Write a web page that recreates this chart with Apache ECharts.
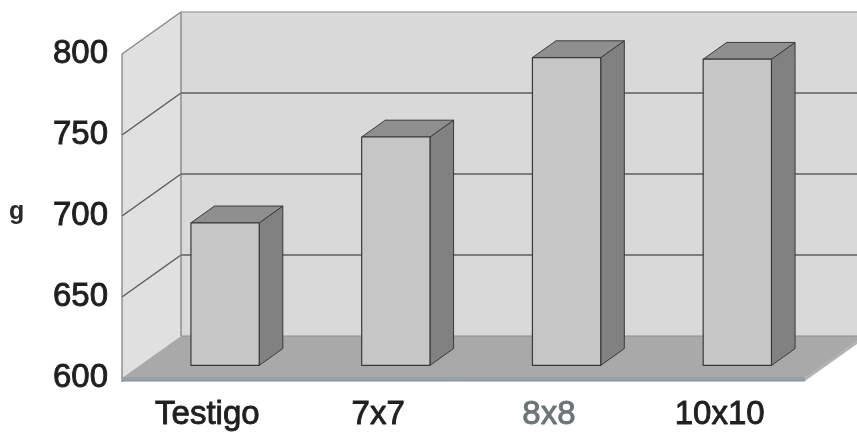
<!DOCTYPE html>
<html>
<head>
<meta charset="utf-8">
<script src="https://cdn.jsdelivr.net/npm/echarts@6/dist/echarts.min.js"></script>
<style>
  html, body { margin: 0; padding: 0; background: #ffffff; }
  #chart { width: 857px; height: 435px; }
</style>
</head>
<body>
<div id="chart"></div>
<script>
// Weight per planting density
const categories = ['Testigo', '7x7', '8x8', '10x10'];
const weights = [688, 741, 790, 789];
const yTicks = [600, 650, 700, 750, 800];
const labelColors = ['#1f1f1f', '#1f1f1f', '#6b7474', '#1f1f1f'];

// Oblique projection: pixel offset from the front plane to the back wall
const DEPTH = [59, -42];
const BAR_FRONT = 0.3;   // bar front face, as a fraction of the depth
const BAR_BACK = 0.7;    // bar back face
const BAR_WIDTH = 0.4;   // bar width relative to the category band
const FONT = 'Liberation Sans, Arial, sans-serif';

function shift(p, f) {
  return [p[0] + DEPTH[0] * f, p[1] + DEPTH[1] * f];
}
function poly(points, fill, stroke, lw) {
  return {
    type: 'polygon',
    shape: { points: points },
    style: { fill: fill, stroke: stroke || null, lineWidth: lw || 0, lineJoin: 'round' }
  };
}
function seg(p1, p2, stroke, lw) {
  return {
    type: 'line',
    shape: { x1: p1[0], y1: p1[1], x2: p2[0], y2: p2[1] },
    style: { stroke: stroke, lineWidth: lw }
  };
}

// Walls, floor and the gridlines painted on them
function renderWalls(params, api) {
  const cs = params.coordSys;
  const x0 = cs.x, x1 = cs.x + cs.width;
  const yBase = api.coord([0, yTicks[0]])[1];
  const yTop = api.coord([0, yTicks[yTicks.length - 1]])[1];
  const kids = [];

  // left side wall
  kids.push(poly([[x0, yBase], [x0, yTop], shift([x0, yTop], 1), shift([x0, yBase], 1)], '#e0e0e0'));
  // back wall
  kids.push(poly([shift([x0, yBase], 1), shift([x0, yTop], 1), shift([x1, yTop], 1), shift([x1, yBase], 1)], '#d9d9d9'));

  // gridlines on both walls
  yTicks.slice(1).forEach(function (v, idx) {
    const y = api.coord([0, v])[1];
    const last = idx === yTicks.length - 2;
    const col = last ? '#8a8a8a' : '#5c5c5c';
    kids.push(seg([x0, y], shift([x0, y], 1), col, 1.5));
    kids.push(seg(shift([x0, y], 1), shift([x1, y], 1), last ? '#a8a8a8' : col, 1.5));
  });

  // wall edges
  kids.push(seg([x0, yTop], [x0, yBase + 4], '#7a7a7a', 1.2));
  kids.push(seg(shift([x0, yTop], 1), shift([x0, yBase], 1), '#7a7a7a', 1.2));

  // floor top surface and its front slab
  kids.push(poly([[x0, yBase], [x1, yBase], shift([x1, yBase], 1), shift([x0, yBase], 1)], '#a9a9a9'));
  kids.push(poly([[x0, yBase - 1], [x1, yBase - 1], [x1, yBase + 3], [x0, yBase + 3]], '#97a1a6'));
  kids.push(poly([[x1, yBase - 1], shift([x1, yBase], 1), shift([x1, yBase + 3], 1), [x1, yBase + 3]], '#b2b2b2'));
  kids.push(seg([x0, yBase + 3], [x1, yBase + 3], '#8490a0', 1));
  kids.push(seg(shift([x0, yBase], 1), shift([x1, yBase], 1), '#8e8e8e', 1));

  return { type: 'group', children: kids };
}

// One box per category
function renderBar(params, api) {
  const i = api.value(0);
  const v = api.value(1);
  const top = api.coord([i, v]);
  const base = api.coord([i, yTicks[0]]);
  const bw = api.size([1, 0])[0];
  const w = bw * BAR_WIDTH;
  const xl = top[0] - w / 2, xr = top[0] + w / 2;

  const fBL = shift([xl, base[1]], BAR_FRONT), fBR = shift([xr, base[1]], BAR_FRONT);
  const fTL = shift([xl, top[1]], BAR_FRONT), fTR = shift([xr, top[1]], BAR_FRONT);
  const bBR = shift([xr, base[1]], BAR_BACK);
  const bTL = shift([xl, top[1]], BAR_BACK), bTR = shift([xr, top[1]], BAR_BACK);

  const edge = '#3a3a3a';
  return {
    type: 'group',
    children: [
      poly([fBR, fTR, bTR, bBR], '#818181', edge, 1),
      poly([fTL, fTR, bTR, bTL], '#8f8f8f', edge, 1),
      poly([fBL, fTL, fTR, fBR], '#c6c6c6', edge, 1.2)
    ]
  };
}

// one rich style per category label so each keeps its own colour
const catRich = {};
labelColors.forEach(function (c, i) {
  catRich['c' + i] = {
    color: c,
    fontSize: 33,
    lineHeight: 40,
    fontFamily: FONT,
    textBorderColor: c,
    textBorderWidth: 0.9
  };
});

const chart = echarts.init(document.getElementById('chart'), null, { renderer: 'canvas' });
chart.setOption({
  animation: false,
  backgroundColor: '#ffffff',
  grid: { left: 122, right: 52, top: 54, bottom: 57, containLabel: false },
  xAxis: {
    type: 'category',
    data: categories,
    boundaryGap: true,
    axisLine: { show: false },
    axisTick: { show: false },
    splitLine: { show: false },
    axisLabel: {
      interval: 0,
      hideOverlap: false,
      margin: 17,
      fontSize: 33,
      lineHeight: 40,
      fontFamily: FONT,
      formatter: function (val, idx) { return '{c' + idx + '|' + val + '}'; },
      rich: catRich
    }
  },
  yAxis: {
    type: 'value',
    min: yTicks[0],
    max: yTicks[yTicks.length - 1],
    interval: 50,
    axisLine: { show: false },
    axisTick: { show: false },
    splitLine: { show: false },
    axisLabel: {
      margin: 14,
      fontSize: 33,
      padding: [4, 0, 0, 0],
      fontFamily: FONT,
      color: '#1f1f1f',
      textBorderColor: '#1f1f1f',
      textBorderWidth: 0.9
    }
  },
  graphic: [{
    type: 'text',
    left: 9,
    top: 200,
    style: { text: 'g', font: 'bold 25px "Liberation Sans", Arial, sans-serif', fill: '#2a2a2a' }
  }],
  series: [
    {
      type: 'custom',
      name: 'walls',
      z: 1,
      silent: true,
      renderItem: renderWalls,
      data: [[0, yTicks[0]]]
    },
    {
      type: 'custom',
      name: 'g',
      z: 2,
      renderItem: renderBar,
      encode: { x: 0, y: 1 },
      data: weights.map(function (v, i) { return [i, v]; })
    }
  ]
});
</script>
</body>
</html>
